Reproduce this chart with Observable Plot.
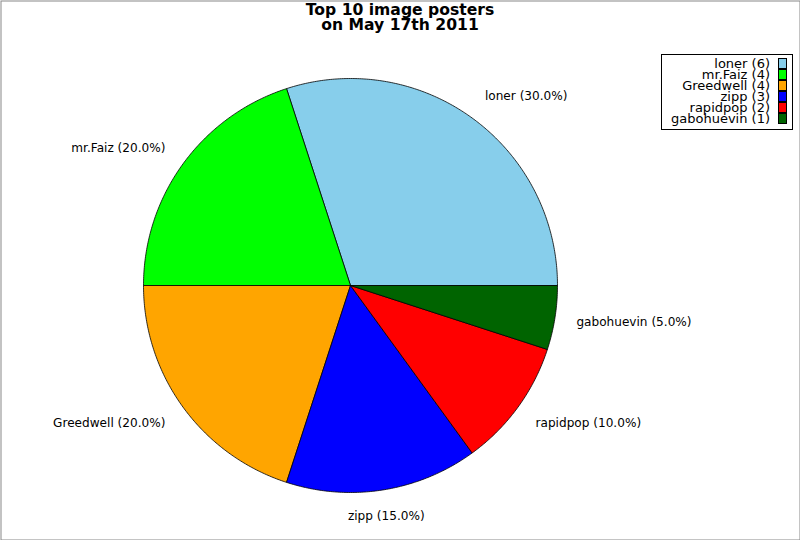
<!DOCTYPE html>
<html>
<head>
<meta charset="utf-8">
<script src="https://cdn.jsdelivr.net/npm/d3@7"></script>
<script src="https://cdn.jsdelivr.net/npm/@observablehq/plot@0.6"></script>
<style>
  html, body { margin: 0; padding: 0; background: #fff; }
  #wrap { position: relative; width: 800px; height: 540px; font-family: "DejaVu Sans", sans-serif; }
  #title { position: absolute; left: 0; top: 3px; width: 800px; text-align: center; font-weight: bold; font-size: 15.6px; line-height: 14.5px; color: #000; }
  #legend { position: absolute; left: 661px; top: 54px; width: 130px; height: 74px; border: 1px solid #000; background: #fff; }
  .txt { position: absolute; right: 22px; height: 11px; line-height: 11px; font-size: 13px; white-space: nowrap; }
  .sw { position: absolute; right: 5px; width: 7px; height: 9px; border: 1px solid #000; box-sizing: content-box; }
</style>
</head>
<body>
<div id="wrap">
  <div id="chart"></div>
  <div id="title">Top 10 image posters<br>on May 17th 2011</div>
  <div id="legend"></div>
</div>
<script>
const names = ["loner", "mr.Faiz", "Greedwell", "zipp", "rapidpop", "gabohuevin"];
const counts = [6, 4, 4, 3, 2, 1];
const colors = ["#87CEEB", "#00FF00", "#FFA500", "#0000FF", "#FF0000", "#006400"];

const total = d3.sum(counts);
const W = 800, H = 540, cx = 350, cy = 285, r = 207;

// slices: counterclockwise from east (math angles)
let acc = 0;
const slices = names.map((name, i) => {
  const a0 = acc / total * 2 * Math.PI;
  acc += counts[i];
  const a1 = acc / total * 2 * Math.PI;
  return {name, count: counts[i], color: colors[i], a0, a1, pct: counts[i] / total * 100};
});

function slicePoints(s) {
  const pts = [{x: 0, y: 0}];
  const n = Math.max(2, Math.ceil((s.a1 - s.a0) / (Math.PI / 360)));
  for (let k = 0; k <= n; k++) {
    const a = s.a0 + (s.a1 - s.a0) * k / n;
    pts.push({x: Math.cos(a), y: Math.sin(a)});
  }
  pts.push({x: 0, y: 0});
  return pts;
}

const labelDist = 1.12;
const labels = slices.map(s => {
  const m = (s.a0 + s.a1) / 2;
  const c = Math.cos(m);
  return {
    text: `${s.name} (${s.pct.toFixed(1)}%)`,
    x: (labelDist - 0.015) * c,
    y: (labelDist + 0.01) * Math.sin(m),
    anchor: Math.abs(c) < 0.25 ? "middle" : (c > 0 ? "start" : "end")
  };
});

const plot = Plot.plot({
  width: W, height: H,
  margin: 0,
  x: {domain: [-cx / r, (W - cx) / r], axis: null},
  y: {domain: [-(H - cy) / r, cy / r], axis: null},
  style: {fontFamily: "DejaVu Sans, sans-serif", background: "#fff"},
  marks: [
    ...slices.map(s => Plot.line(slicePoints(s), {x: "x", y: "y", fill: s.color, stroke: "#000", strokeWidth: 0.8, strokeLinejoin: "round"})),
    ...["start", "middle", "end"].map(a => Plot.text(labels.filter(l => l.anchor === a), {
      x: "x", y: "y", text: "text", textAnchor: a, fontSize: 12.1, fill: "#000", lineAnchor: "middle"
    })),
    Plot.frame({stroke: "#888", inset: 0.5})
  ]
});
document.getElementById("chart").appendChild(plot);

const legend = document.getElementById("legend");
names.forEach((n, i) => {
  const t = document.createElement("div");
  t.className = "txt";
  t.style.top = (3 + 11 * i) + "px";
  t.textContent = `${n} (${counts[i]})`;
  legend.appendChild(t);
  const sw = document.createElement("div");
  sw.className = "sw";
  sw.style.top = (3 + 11 * i) + "px";
  sw.style.background = colors[i];
  legend.appendChild(sw);
});
</script>
</body>
</html>
